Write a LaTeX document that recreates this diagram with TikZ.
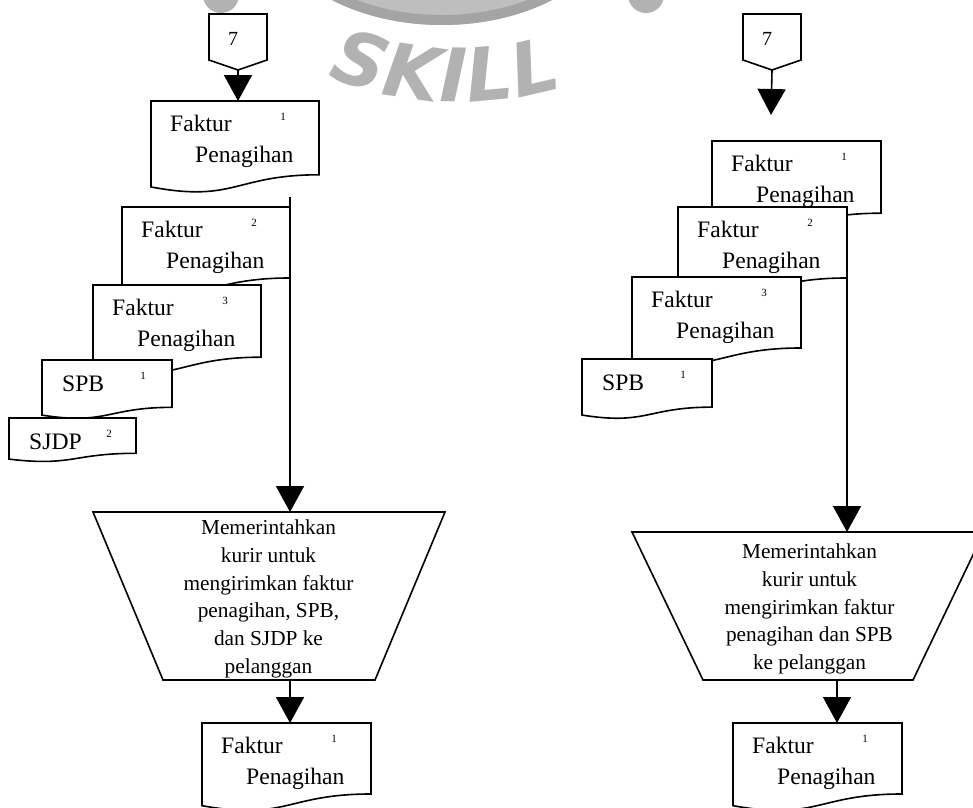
\documentclass[tikz,border=0pt]{standalone}
\usepackage{fontspec}
\setmainfont{Liberation Serif}
\newfontfamily\wmfont{DejaVu Sans}
\usetikzlibrary{arrows.meta,calc,decorations.text}

\definecolor{wmgray}{HTML}{B2B2B2}
\definecolor{wmlight}{HTML}{BEBEBE}
\definecolor{wmdark}{HTML}{A4A4A4}

\tikzset{
  docline/.style={draw=black, line width=1.6pt, fill=white, line join=miter},
  flow/.style={draw=black, line width=1.6pt, -{Triangle[width=28pt,length=26pt]}},
  shapeline/.style={draw=black, line width=1.6pt, fill=white, line join=miter},
  anchorbox/.style={inner sep=0, outer sep=0},
  lbl/.style={inner sep=0, font=\fontsize{23.6}{32}\selectfont},
  copyno/.style={inner sep=0, font=\fontsize{11}{13}\selectfont},
  conntxt/.style={inner sep=0, font=\fontsize{20}{24}\selectfont},
  proctxt/.style={inner sep=0, align=center, font=\fontsize{21.3}{27.8}\selectfont},
}

% document symbol: name, left x, top y, width, height (wave included)
\newcommand\docbox[5]{%
  \draw[docline] (#2,#3) -- ({#2+#4},#3) -- ({#2+#4},{#3+0.802*#5})
    .. controls ({#2+0.5*#4},{#3+0.802*#5}) and ({#2+0.5*#4},{#3+1.107*#5})
    .. (#2,{#3+0.934*#5}) -- cycle;
  \node[anchorbox, anchor=north west, minimum width=#4pt, minimum height=#5pt] (#1) at (#2,#3) {};
}
% "Faktur Penagihan" document with its copy number
\newcommand\faktur[6]{%
  \docbox{#1}{#2}{#3}{#4}{#5}
  \node[lbl, anchor=base west] (#1-a) at ({#2+19},{#3+30}) {Faktur};
  \node[lbl, anchor=base west] (#1-b) at ({#2+44},{#3+61}) {Penagihan};
  \node[copyno, anchor=north] (#1-n) at ({#2+132},{#3+12}) {#6};
}
% one-line document: name, x, y, w, h, label, copy number, copy-number offset
\newcommand\slip[8]{%
  \docbox{#1}{#2}{#3}{#4}{#5}
  \node[lbl, anchor=base west] (#1-a) at ({#2+20},{#3+31}) {#6};
  \node[copyno, anchor=north] (#1-n) at ({#2+#8},{#3+12}) {#7};
}
% off-page connector: name, left x, top y
\newcommand\offpage[3]{%
  \node[anchorbox, anchor=north west, minimum width=58pt, minimum height=56pt] (#1) at (#2,#3) {};
  \draw[shapeline] (#1.north west) -- (#1.north east) -- ($(#1.north east)+(0,46)$)
    -- (#1.south) -- ($(#1.north west)+(0,46)$) -- cycle;
  \node[conntxt, anchor=base] (#1-t) at ($(#1.north)+(-5,31)$) {7};
}

\begin{document}
\begin{tikzpicture}[x=1pt, y=-1pt]
\useasboundingbox (0,0) rectangle (973,807);
\clip (0,0) rectangle (973,807);

% ---- faded logo in the background ----
\fill[wmlight] (442,-95) ellipse [x radius=180, y radius=120];
\draw[wmdark, line width=10pt] (442,-95) ellipse [x radius=175, y radius=115];
\fill[wmgray] (221,-5) circle (18);
\fill[wmgray] (646,-5) circle (18);
\path[decorate, decoration={text along path, text align=fit to path,
    text={|\wmfont\bfseries\itshape\fontsize{74}{80}\selectfont\color{wmgray}|SKILL}}]
  ({460+352*cos(112)},{-250+352*sin(112)}) arc[start angle=112, end angle=73, radius=352];

% ================= left flow =================
\offpage{c7L}{209}{14}
\faktur{d1}{151}{101}{168}{92}{1}
\faktur{d2}{122}{207}{168}{88.5}{2}
\faktur{d3}{93}{285}{168}{90}{3}
\slip{spbL}{42}{360}{130}{59}{SPB}{1}{101}
\slip{sjdp}{9}{418}{127}{44}{SJDP}{2}{100}

\node[anchorbox, anchor=north west, minimum width=352pt, minimum height=168pt] (t1) at (93,512) {};
\draw[shapeline] (t1.north west) -- (t1.north east) -- ($(t1.south east)+(-70,0)$)
  -- ($(t1.south west)+(70,0)$) -- cycle;
\node[proctxt, anchor=north] (t1-t) at (268.5,519.5)
  {Memerintahkan\\kurir untuk\\mengirimkan faktur\\penagihan, SPB,\\dan SJDP ke\\pelanggan};

\faktur{bL}{202}{723}{169}{88.5}{1}

\coordinate (j1) at (290,197);
\draw[flow] (c7L.south) -- (c7L.south |- d1.north);
\draw[flow] (j1) -- (j1 |- t1.north);
\draw[flow] (t1.south -| j1) -- (bL.north -| j1);

% ================= right flow =================
\offpage{c7R}{743}{14}
\faktur{r1}{712}{141}{169}{90}{1}
\faktur{r2}{678}{207}{169}{88.5}{2}
\faktur{r3}{632}{277}{169}{88.5}{3}
\slip{spbR}{582}{359}{130}{60}{SPB}{1}{101}

\node[anchorbox, anchor=north west, minimum width=352pt, minimum height=148pt] (t2) at (632,532) {};
\draw[shapeline] (t2.north west) -- (t2.north east) -- ($(t2.south east)+(-71,0)$)
  -- ($(t2.south west)+(71,0)$) -- cycle;
\node[proctxt, anchor=north] (t2-t) at (809.5,543.5)
  {Memerintahkan\\kurir untuk\\mengirimkan faktur\\penagihan dan SPB\\ke pelanggan};

\faktur{bR}{733}{723}{169}{88.5}{1}

\coordinate (e7R) at (771,115);
\draw[flow] (c7R.south) -- (e7R);
\draw[flow] (r2.north east) -- (r2.north east |- t2.north);
\draw[flow] (t2.south -| 837,0) -- (bR.north -| 837,0);
\end{tikzpicture}
\end{document}
